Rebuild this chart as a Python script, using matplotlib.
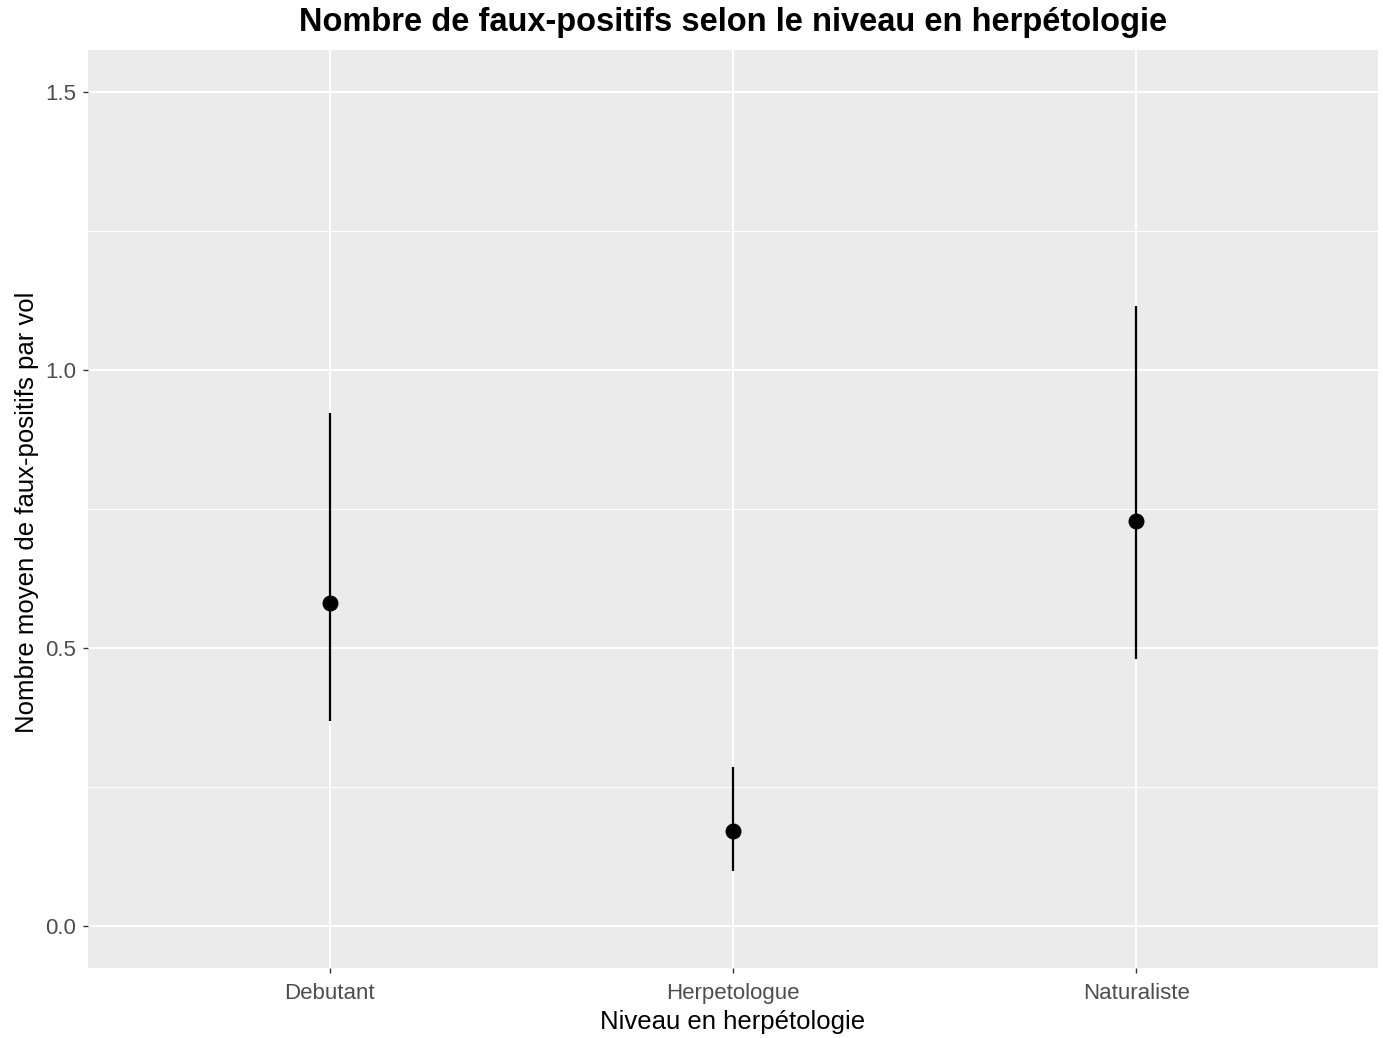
import matplotlib
matplotlib.use("Agg")
import matplotlib.pyplot as plt
from matplotlib.ticker import MultipleLocator

categories = ["Debutant", "Herpetologue", "Naturaliste"]
means = [0.581, 0.171, 0.729]
lower = [0.369, 0.099, 0.480]
upper = [0.923, 0.286, 1.115]

title = "Nombre de faux-positifs selon le niveau en herpétologie"
xlabel = "Niveau en herpétologie"
ylabel = "Nombre moyen de faux-positifs par vol"

plt.rcParams['font.family'] = ['Liberation Sans', 'DejaVu Sans']

fig = plt.figure(figsize=(13.83, 10.38), dpi=100)
ax = fig.add_axes([88/1383, 1-968/1038, (1378-88)/1383, (968-50)/1038])
ax.set_facecolor("#EBEBEB")
for s in ax.spines.values():
    s.set_visible(False)

x = list(range(1, len(categories) + 1))
ax.vlines(x, lower, upper, color="black", linewidth=1.6, zorder=3)
ax.scatter(x, means, s=110, color="black", zorder=4)

ax.set_xlim(0.4, 3.6)
ax.set_xticks(x)
ax.set_xticklabels(categories)
ax.yaxis.set_minor_locator(MultipleLocator(0.25))
ax.set_yticks([0.0, 0.5, 1.0, 1.5])
ax.set_yticklabels(["0.0", "0.5", "1.0", "1.5"])
ax.set_ylim(-0.075, 1.575)

ax.grid(which="major", color="white", linewidth=1.5)
ax.grid(which="minor", axis="y", color="white", linewidth=0.75)
ax.set_axisbelow(True)
ax.tick_params(which="major", length=3.5, width=1, color="#333333",
               labelcolor="#4D4D4D", labelsize=16, pad=5)
ax.tick_params(axis="x", which="major", pad=7)
ax.tick_params(which="minor", length=0)

fig.text(733/1383, 1-1022/1038, xlabel, ha="center", va="center",
         fontsize=18.5, color="black")
fig.text(27/1383, 1-512/1038, ylabel, ha="center", va="center",
         rotation=90, fontsize=18.5, color="black")
fig.text(733/1383, 1-22/1038, title, ha="center", va="center",
         fontsize=23.5, fontweight="bold")

fig.savefig("out.png", dpi=100)
